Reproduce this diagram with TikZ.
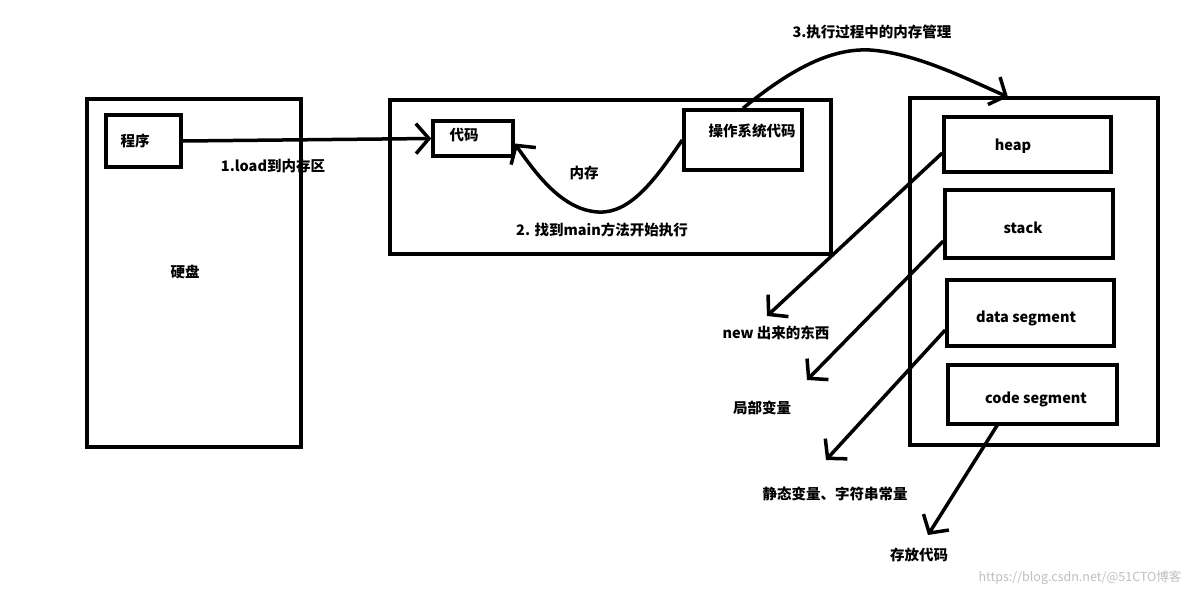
\documentclass[tikz,border=0pt]{standalone}
\usepackage{fontspec}
\setmainfont{Noto Sans CJK SC}
\usetikzlibrary{arrows.meta}
\begin{document}
\begin{tikzpicture}[x=1pt,y=-1pt,
  box/.style={draw,line width=3.5pt,inner sep=0pt},
  lbl/.style={font=\fontsize{14.5}{16}\selectfont\bfseries,inner sep=0pt},
  conn/.style={line width=3.5pt,-{Straight Barb[length=13pt,width=30pt,line width=3.5pt]}},
  plainline/.style={line width=3.5pt}]
\useasboundingbox (0,0) rectangle (1184,592);
\fill[white] (0,0) rectangle (1184,592);
% disk
\node[box,minimum width=214pt,minimum height=348pt] (disk) at (194,273) {};
\node[lbl] (disklbl) at (185,272) {硬盘};
\node[box,minimum width=75pt,minimum height=52pt] (prog) at (143.5,141) {};
\node[lbl] (proglbl) at (135,141) {程序};
% memory
\node[box,minimum width=441pt,minimum height=154pt] (mem) at (610.5,177) {};
\node[lbl] (memlbl) at (584,173) {内存};
\node[box,minimum width=80pt,minimum height=35pt] (code) at (473,138.5) {};
\node[lbl] (codelbl) at (464,135) {代码};
\node[box,minimum width=118pt,minimum height=60pt] (os) at (743,140) {};
\node[lbl] (oslbl) at (752,131) {操作系统代码};
% process memory
\node[box,minimum width=248pt,minimum height=347pt] (proc) at (1034,271.5) {};
\node[box,minimum width=167pt,minimum height=55pt] (heap) at (1027.5,144.5) {};
\node[lbl] (heaplbl) at (1013,146) {heap};
\node[box,minimum width=168pt,minimum height=68pt] (stack) at (1029,224) {};
\node[lbl] (stacklbl) at (1023,228) {stack};
\node[box,minimum width=167pt,minimum height=66pt] (data) at (1030.5,313) {};
\node[lbl] (datalbl) at (1026,318) {data segment};
\node[box,minimum width=169pt,minimum height=59pt] (cseg) at (1032.5,394.5) {};
\node[lbl] (cseglbl) at (1036,399) {code segment};
% labels
\node[lbl] (l1) at (273,166) {1.load到内存区};
\node[lbl] (l2) at (602,230) {2. 找到main方法开始执行};
\node[lbl] (l3) at (872,32) {3.执行过程中的内存管理};
\node[lbl] (lnew) at (776,333) {new 出来的东西};
\node[lbl] (lloc) at (762,408) {局部变量};
\node[lbl] (lstat) at (835,494) {静态变量、字符串常量};
\node[lbl] (lcode) at (919,555) {存放代码};
\node[font=\fontsize{12.5}{14}\selectfont,text=black!25,inner sep=0pt] (wm) at (1080,578) {https://blog.csdn.net/@51CTO博客};
% free ends
\coordinate (e1) at (767,316);
\coordinate (e2) at (807,380);
\coordinate (e3) at (826,460);
\coordinate (e4) at (928,535);
\coordinate (p3) at (1008,97);
% connectors
\draw[conn] (prog.east) -- (code.west);
\draw[conn] (os.west) .. controls (655,180) and (630,214) .. (598,212)
   .. controls (565,210) and (540,180) .. ([yshift=-5pt]code.east);
\draw[conn] (os.north) .. controls (790,70) and (830,48) .. (870,50)
   .. controls (915,53) and (965,78) .. (p3);
\draw[conn] (heap.west |- 0,153) -- (e1);
\draw[conn] (stack.west |- 0,241) -- (e2);
\draw[conn] (data.west |- 0,330) -- (e3);
\draw[conn] (998,424) -- (e4);
\end{tikzpicture}
\end{document}
